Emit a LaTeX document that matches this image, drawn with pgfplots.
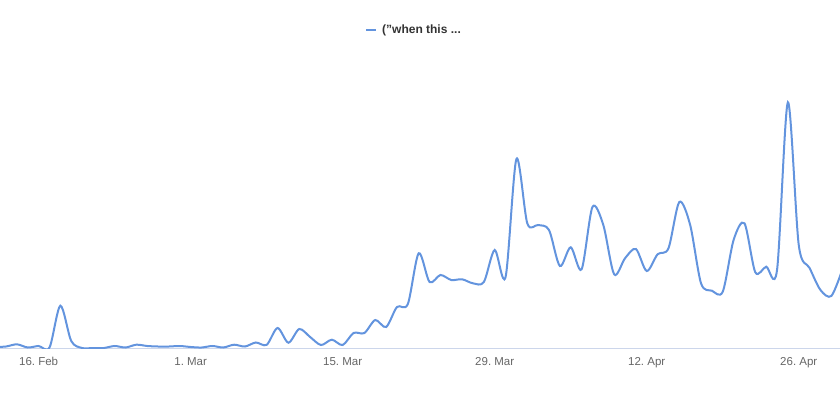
\documentclass[border=0pt]{standalone}
\usepackage{pgfplots}
\pgfplotsset{compat=1.18}
\usepackage{fontspec}
\setmainfont{Liberation Sans}
\frenchspacing
\definecolor{linec}{RGB}{99,148,222}
\definecolor{axc}{HTML}{CCD6EB}
\definecolor{labc}{HTML}{666666}
\definecolor{legc}{HTML}{333333}

\pgfplotstableread{
d v
-4 1
-3 1.5
-2 3.7
-1 0.5
0 2
1 0.5
2 42.3
3 7
4 0
5 0
6 0
7 2
8 0.5
9 3.3
10 2
11 1.5
12 1.5
13 2
14 1
15 0.5
16 2
17 0.5
18 3.3
19 1.5
20 5.5
21 3.2
22 20
23 5.3
24 19
25 11
26 3
27 8.3
28 3
29 15
30 15
31 28
32 21
33 41
34 44
35 94.7
36 66
37 73
38 68
39 68.7
40 64.7
41 66
42 98
43 71
44 189
45 124.7
46 123
47 118
48 82
49 100.7
50 78.7
51 141
52 123
53 73.7
54 89.7
55 99
56 77
57 93.7
58 99.7
59 146
60 123
61 64.7
62 57.3
63 56.3
64 108
65 124.7
66 75.7
67 81.3
68 78
69 245.7
70 103
71 80
72 58
73 52
74 78
}\series

\begin{document}
\begin{tikzpicture}[x=1bp,y=1bp]
\path[use as bounding box] (0,0) rectangle (840,400);
\begin{axis}[
  at={(0bp,52bp)}, anchor=south west,
  scale only axis, width=840bp, height=288bp,
  xmin=-3.56, xmax=73.8, ymin=0, ymax=288,
  axis x line*=bottom, axis y line=none,
  x axis line style={draw=axc, line width=1bp, -},
  xtick={0,14,28,42,56,70},
  xticklabels={16. Feb,1. Mar,15. Mar,29. Mar,12. Apr,26. Apr},
  major tick length=0pt,
  xticklabel style={font=\fontsize{11.5bp}{13bp}\selectfont, text=labc, yshift=-6bp},
  ytick=\empty,
  legend style={at={(axis description cs:0.5,1)}, anchor=center, yshift=30bp, xshift=-6bp,
    draw=none, fill=none, font=\bfseries\fontsize{12bp}{14bp}\selectfont, text=legc,
    inner sep=0pt},
  legend image code/.code={\draw[#1, line width=2bp] (0bp,0bp) -- (10bp,0bp);},
  clip=true,
]
\addplot[linec, line width=2bp, smooth, tension=0.5] table[x=d, y=v] {\series};
\addlegendentry{\hspace{3bp}("when this ...}
\end{axis}
\end{tikzpicture}
\end{document}
